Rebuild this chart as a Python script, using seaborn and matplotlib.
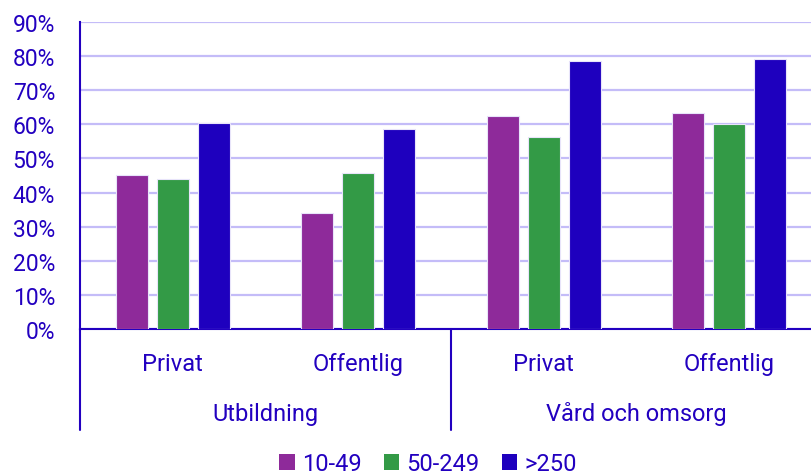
import pandas as pd
import matplotlib.pyplot as plt
import seaborn as sns
from matplotlib.ticker import PercentFormatter
from matplotlib.patches import Patch

sektorer = ["Utbildning", "Vård och omsorg"]
agare = ["Privat", "Offentlig"]
storlekar = ["10-49", "50-249", ">250"]

# andel per storleksklass, ordning: Utb Privat, Utb Offentlig, Vård Privat, Vård Offentlig
v_10_49 = [45.2, 34.1, 62.5, 63.3]
v_50_249 = [43.9, 45.7, 56.2, 60.0]
v_250 = [60.3, 58.7, 78.7, 79.2]

farger = ["#8e2a9a", "#339a46", "#1e00be"]
textfarg = "#2200c0"
gridfarg = "#c4bcf8"

grupper = [f"{s} {a}" for s in sektorer for a in agare]
rader = []
for storlek, varden in zip(storlekar, [v_10_49, v_50_249, v_250]):
    for g, v in zip(grupper, varden):
        rader.append({"grupp": g, "storlek": storlek, "andel": v / 100})
df = pd.DataFrame(rader)

sns.set_style("white")
plt.rcParams["font.family"] = ["Roboto", "DejaVu Sans"]

fig = plt.figure(figsize=(8.11, 4.77), dpi=100)
ax = fig.add_axes([80 / 811, 147 / 477, 731 / 811, 307 / 477])

sns.barplot(
    data=df, x="grupp", y="andel", hue="storlek", order=grupper,
    hue_order=storlekar, palette=farger, saturation=1, width=0.663, gap=0.22,
    edgecolor="#e8e4fa", linewidth=0.8, legend=False, ax=ax, zorder=3,
)

ax.set_ylim(0, 0.9)
ax.set_xlim(-0.5, 3.44)
ax.set_yticks([i / 10 for i in range(10)])
ax.yaxis.set_major_formatter(PercentFormatter(1.0, decimals=0))
ax.grid(axis="y", color=gridfarg, linewidth=1.6, zorder=0)
ax.set_axisbelow(True)
ax.tick_params(axis="y", length=0, pad=18, labelsize=16.5, labelcolor=textfarg)
ax.set_xticks([])
ax.set_xlabel("")
ax.set_ylabel("")
for side in ["top", "right"]:
    ax.spines[side].set_visible(False)
for side in ["left", "bottom"]:
    ax.spines[side].set_color(textfarg)
    ax.spines[side].set_linewidth(1.5)

# hierarkisk x-axel
trans = ax.get_xaxis_transform()
for x in [-0.5, 1.5]:
    ax.plot([x, x], [0, -0.33], transform=trans, color=textfarg,
            linewidth=1.5, clip_on=False)
for i, g in enumerate(grupper):
    ax.text(i, -0.111, agare[i % 2], transform=trans, ha="center",
            va="center", fontsize=17, color=textfarg)
for j, s in enumerate(sektorer):
    ax.text(2 * j + 0.5, -0.274, s, transform=trans, ha="center",
            va="center", fontsize=17, color=textfarg)

handles = [Patch(facecolor=f, edgecolor="none") for f in farger]
leg = fig.legend(
    handles, storlekar, loc="center", bbox_to_anchor=(428 / 811, 1 - 465 / 477),
    ncol=3, frameon=False, handlelength=0.65, handleheight=0.65,
    handletextpad=0.3, columnspacing=0.95, fontsize=17,
)
for t in leg.get_texts():
    t.set_color(textfarg)

plt.savefig("out.png", dpi=100)
